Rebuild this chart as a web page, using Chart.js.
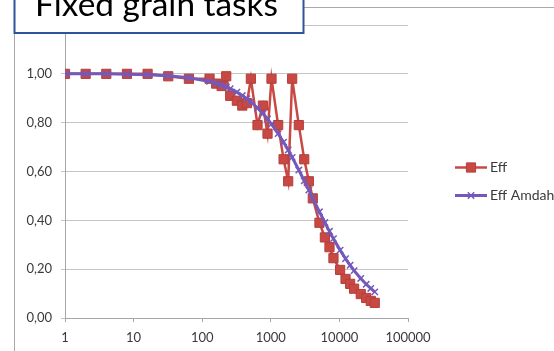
<!DOCTYPE html>
<html>
<head>
<meta charset="utf-8">
<script src="https://cdn.jsdelivr.net/npm/chart.js@4/dist/chart.umd.min.js"></script>
<style>
  html, body { margin: 0; padding: 0; background: #ffffff; }
  #wrap { width: 554px; height: 351px; overflow: hidden; }
  canvas { display: block; }
</style>
</head>
<body>
<div id="wrap"><canvas id="c" width="554" height="351"></canvas></div>
<script>
// Number of tasks / workers on the log axis
const workers = [1, 2, 4, 8, 16, 32, 64, 128, 160, 192, 224, 256, 320, 384, 448, 512,
  640, 768, 896, 1024, 1280, 1536, 1792, 2048, 2560, 3072, 3584, 4096, 5120, 6144,
  7168, 8192, 10240, 12288, 14336, 16384, 20480, 24576, 28672, 32768];

// Measured efficiency
const effMeasured = [1.00, 1.00, 1.00, 1.00, 1.00, 0.99, 0.98, 0.98, 0.96, 0.95, 0.99, 0.91,
  0.89, 0.87, 0.88, 0.98, 0.79, 0.87, 0.755, 0.98, 0.79, 0.65, 0.56, 0.98, 0.79, 0.65,
  0.56, 0.49, 0.39, 0.33, 0.29, 0.245, 0.197, 0.16, 0.14, 0.12, 0.098, 0.082, 0.07, 0.062];

// Efficiency predicted by Amdahl's law
const effAmdahl = [1.00, 1.00, 1.00, 0.998, 0.996, 0.992, 0.984, 0.969, 0.961, 0.954, 0.946,
  0.939, 0.925, 0.911, 0.898, 0.885, 0.86, 0.837, 0.815, 0.794, 0.755, 0.72, 0.688, 0.658,
  0.606, 0.562, 0.524, 0.491, 0.435, 0.391, 0.355, 0.325, 0.278, 0.243, 0.216, 0.194,
  0.162, 0.138, 0.121, 0.107];

const seriesNames = ['Eff', 'Eff Amdahl'];
const xTickValues = [1, 10, 100, 1000, 10000, 100000];
const yTickValues = [0, 0.2, 0.4, 0.6, 0.8, 1.0, 1.2];
const titleText = 'Fixed grain tasks';

const FONT = 'Lato, "Open Sans", "Liberation Sans", sans-serif';
const TEXT_COLOR = '#3a3a3a';
const RED = '#c84843';
const RED_EDGE = '#b53f3a';
const PURPLE = '#7459bb';

const pairs = (xs, ys) => xs.map((x, i) => ({ x: x, y: ys[i] }));

// Outer frame lines of the chart object
const framePlugin = {
  id: 'frame',
  beforeDraw(chart) {
    const ctx = chart.ctx;
    ctx.save();
    ctx.fillStyle = '#ffffff';
    ctx.fillRect(0, 0, chart.width, chart.height);
    ctx.strokeStyle = '#a9a9a9';
    ctx.lineWidth = 1;
    ctx.beginPath();
    ctx.moveTo(14, 7.5); ctx.lineTo(chart.width, 7.5);
    ctx.moveTo(14.5, 7); ctx.lineTo(14.5, chart.height);
    ctx.stroke();
    ctx.restore();
  }
};

function drawMarker(ctx, style, x, y, r, fill, stroke, bw) {
  if (Chart.helpers && Chart.helpers.drawPoint) {
    ctx.fillStyle = fill;
    ctx.strokeStyle = stroke;
    ctx.lineWidth = bw;
    Chart.helpers.drawPoint(ctx, { pointStyle: style, radius: r, rotation: 0, borderWidth: bw }, x, y);
  }
}

// Legend on the right and the title box on top
const overlayPlugin = {
  id: 'overlay',
  afterDraw(chart) {
    const ctx = chart.ctx;
    ctx.save();

    // legend
    const rows = [167.5, 195.5];
    chart.data.datasets.forEach((ds, i) => {
      const y = rows[i];
      ctx.strokeStyle = ds.borderColor;
      ctx.lineWidth = ds.borderWidth;
      ctx.beginPath();
      ctx.moveTo(455, y); ctx.lineTo(487, y);
      ctx.stroke();
      drawMarker(ctx, ds.pointStyle, 471, y, ds.pointRadius, ds.pointBackgroundColor,
        ds.pointBorderColor, ds.pointBorderWidth);
      ctx.fillStyle = TEXT_COLOR;
      ctx.font = '14px ' + FONT;
      ctx.textAlign = 'left';
      ctx.textBaseline = 'middle';
      ctx.fillText(ds.label, 490, y);
    });

    // title box
    ctx.fillStyle = '#ffffff';
    ctx.fillRect(14.5, -5, 289, 38);
    ctx.strokeStyle = '#2f5597';
    ctx.lineWidth = 2;
    ctx.strokeRect(14.5, -5, 289, 38);
    let size = 34;
    ctx.font = size + 'px ' + FONT;
    const w = ctx.measureText(titleText).width;
    size = size * 243 / w;
    ctx.font = size + 'px ' + FONT;
    ctx.fillStyle = '#000000';
    ctx.textAlign = 'left';
    ctx.textBaseline = 'alphabetic';
    ctx.fillText(titleText, 35, 16);

    ctx.restore();
  }
};

new Chart(document.getElementById('c'), {
  type: 'line',
  data: {
    datasets: [
      {
        label: seriesNames[0],
        data: pairs(workers, effMeasured),
        borderColor: RED,
        borderWidth: 2.5,
        pointStyle: 'rect',
        pointRadius: 6.5,
        pointBackgroundColor: RED,
        pointBorderColor: RED_EDGE,
        pointBorderWidth: 1,
        tension: 0,
        order: 2
      },
      {
        label: seriesNames[1],
        data: pairs(workers, effAmdahl),
        borderColor: PURPLE,
        borderWidth: 3,
        pointStyle: 'crossRot',
        pointRadius: 4.5,
        pointBackgroundColor: PURPLE,
        pointBorderColor: PURPLE,
        pointBorderWidth: 1.5,
        tension: 0,
        order: 1
      }
    ]
  },
  options: {
    responsive: false,
    animation: false,
    devicePixelRatio: 1,
    layout: { padding: { left: 0, top: 25, right: 146, bottom: 0 } },
    plugins: {
      legend: { display: false },
      tooltip: { enabled: false },
      title: { display: false }
    },
    scales: {
      x: {
        type: 'logarithmic',
        min: 1,
        max: 100000,
        afterBuildTicks: (s) => { s.ticks = xTickValues.map(v => ({ value: v })); },
        afterFit: (s) => { s.height = 33; },
        grid: { drawOnChartArea: false, drawTicks: true, tickLength: 4, color: '#a6a6a6' },
        border: { color: '#a6a6a6', width: 1 },
        ticks: {
          autoSkip: false,
          maxRotation: 0,
          padding: 8,
          color: TEXT_COLOR,
          font: { family: FONT, size: 13 },
          callback: (v) => String(v)
        }
      },
      y: {
        type: 'linear',
        min: 0,
        max: 1.2,
        afterBuildTicks: (s) => { s.ticks = yTickValues.map(v => ({ value: v })); },
        afterFit: (s) => { s.width = 65; },
        grid: { color: '#c4c4c4', lineWidth: 1, drawTicks: true, tickLength: 4 },
        border: { color: '#a6a6a6', width: 1 },
        ticks: {
          padding: 9,
          color: TEXT_COLOR,
          font: { family: FONT, size: 13 },
          callback: (v) => Number(v).toFixed(2).replace('.', ',')
        }
      }
    }
  },
  plugins: [framePlugin, overlayPlugin]
});
</script>
</body>
</html>
